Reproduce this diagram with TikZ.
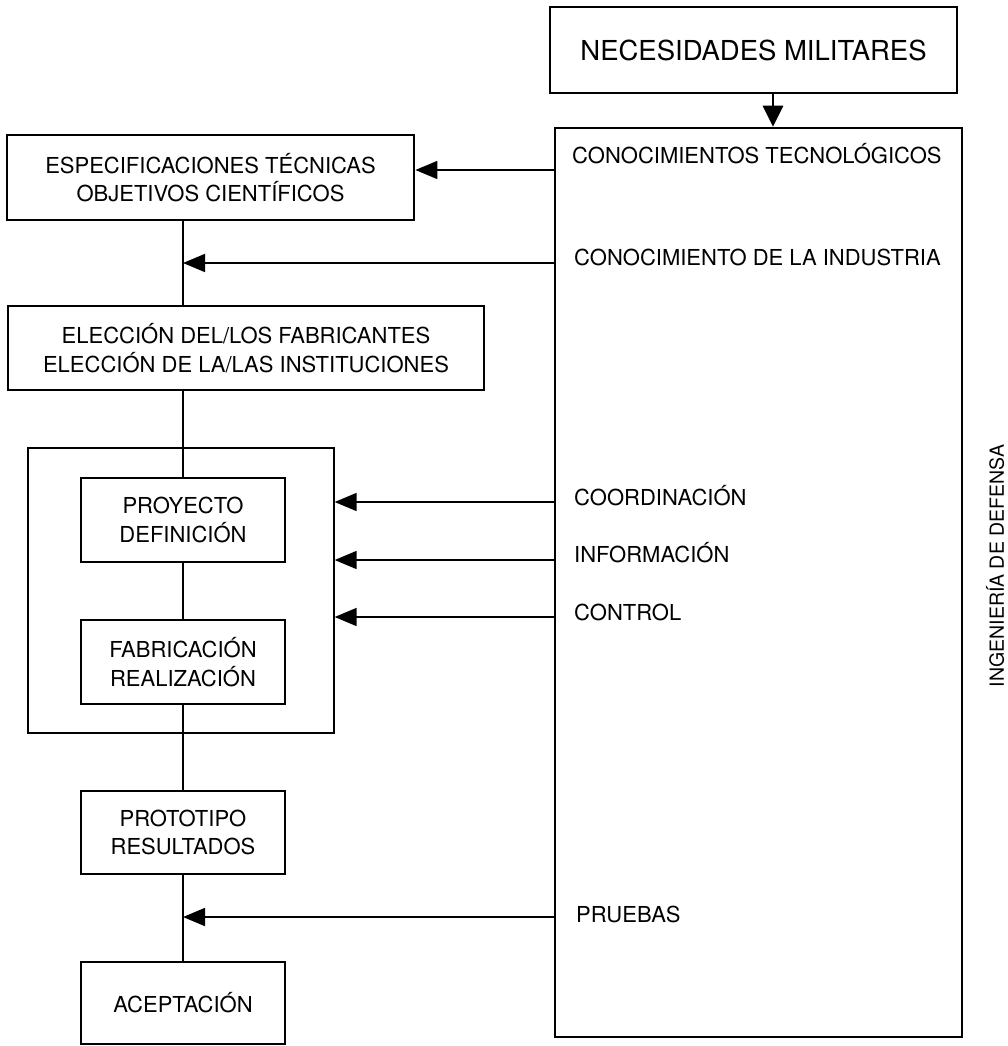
\documentclass[tikz,border=0pt]{standalone}
\usepackage{fontspec}
\setmainfont{TeX Gyre Heros}
\usetikzlibrary{arrows.meta}
\begin{document}
\begin{tikzpicture}[x=1pt,y=-1pt,
  box/.style={draw, line width=2.8pt, rectangle, inner sep=0pt, align=center,
              font=\fontsize{22}{28.5}\selectfont},
  lbl/.style={anchor=base west, inner sep=0pt, font=\fontsize{22}{26}\selectfont},
  con/.style={line width=1.7pt, -{Triangle[length=22pt,width=18pt]}},
  downcon/.style={line width=2.8pt, -{Triangle[length=21pt,width=20pt]}},
  spine/.style={line width=2.3pt}]
\useasboundingbox (0,0) rectangle (1008,1046);

% outer frames
\node[draw, line width=2.5pt, minimum width=407pt, minimum height=909pt] (big) at (758.5,582.5) {};
\node[draw, line width=1.3pt, minimum width=306pt, minimum height=285pt] (frame) at (181,590.5) {};

% boxes
\node[box, minimum width=407pt, minimum height=86pt,
      font=\fontsize{27.5}{33}\selectfont] (nm) at (753.5,50) {NECESIDADES MILITARES};
\node[box, minimum width=407pt, minimum height=85pt] (espec) at (210.5,177.5)
  {ESPECIFICACIONES TÉCNICAS\\OBJETIVOS CIENTÍFICOS};
\node[box, minimum width=476pt, minimum height=84pt] (elec) at (246,348)
  {ELECCIÓN DEL/LOS FABRICANTES\\ELECCIÓN DE LA/LAS INSTITUCIONES};
\node[box, minimum width=204pt, minimum height=84pt] (pro) at (183,520)
  {PROYECTO\\DEFINICIÓN};
\node[box, minimum width=204pt, minimum height=84pt] (fab) at (183,662)
  {FABRICACIÓN\\REALIZACIÓN};
\node[box, minimum width=204pt, minimum height=83pt] (ptp) at (183,832.5)
  {PROTOTIPO\\RESULTADOS};
\node[box, minimum width=204pt, minimum height=82pt] (acp) at (183,1003)
  {ACEPTACIÓN};

% labels inside the big box
\node[lbl] (tec) at (572,163) {CONOCIMIENTOS TECNOLÓGICOS};
\node[lbl] (ind) at (574,265) {CONOCIMIENTO DE LA INDUSTRIA};
\node[lbl] (coo) at (574,505) {COORDINACIÓN};
\node[lbl] (inf) at (574,562) {INFORMACIÓN};
\node[lbl] (ctl) at (574,620) {CONTROL};
\node[lbl] (pru) at (576,922) {PRUEBAS};
\node[rotate=90, inner sep=0pt, font=\fontsize{19.5}{22}\selectfont] (ing) at (995,566)
  {INGENIERÍA DE DEFENSA};

% level coordinates
\coordinate (yTec) at (0,170);
\coordinate (yInd) at (0,263);
\coordinate (yCoo) at (0,502);
\coordinate (yInf) at (0,560);
\coordinate (yCon) at (0,617);
\coordinate (yPru) at (0,917);
\coordinate (xArr) at (773,0);

% spine
\draw[spine] (espec.south -| pro.center) -- (elec.north -| pro.center);
\draw[spine] (elec.south -| pro.center) -- (pro.north);
\draw[spine] (pro.south) -- (fab.north);
\draw[spine] (fab.south) -- (ptp.north);
\draw[spine] (ptp.south) -- (acp.north);

% arrows
\draw[downcon] (nm.south -| xArr) -- (big.north -| xArr);
\draw[con] (big.west |- yTec) -- (espec.east |- yTec);
\draw[con] (big.west |- yInd) -- (pro.center |- yInd);
\draw[con] (big.west |- yCoo) -- (frame.east |- yCoo);
\draw[con] (big.west |- yInf) -- (frame.east |- yInf);
\draw[con] (big.west |- yCon) -- (frame.east |- yCon);
\draw[con] (big.west |- yPru) -- (pro.center |- yPru);
\end{tikzpicture}
\end{document}
